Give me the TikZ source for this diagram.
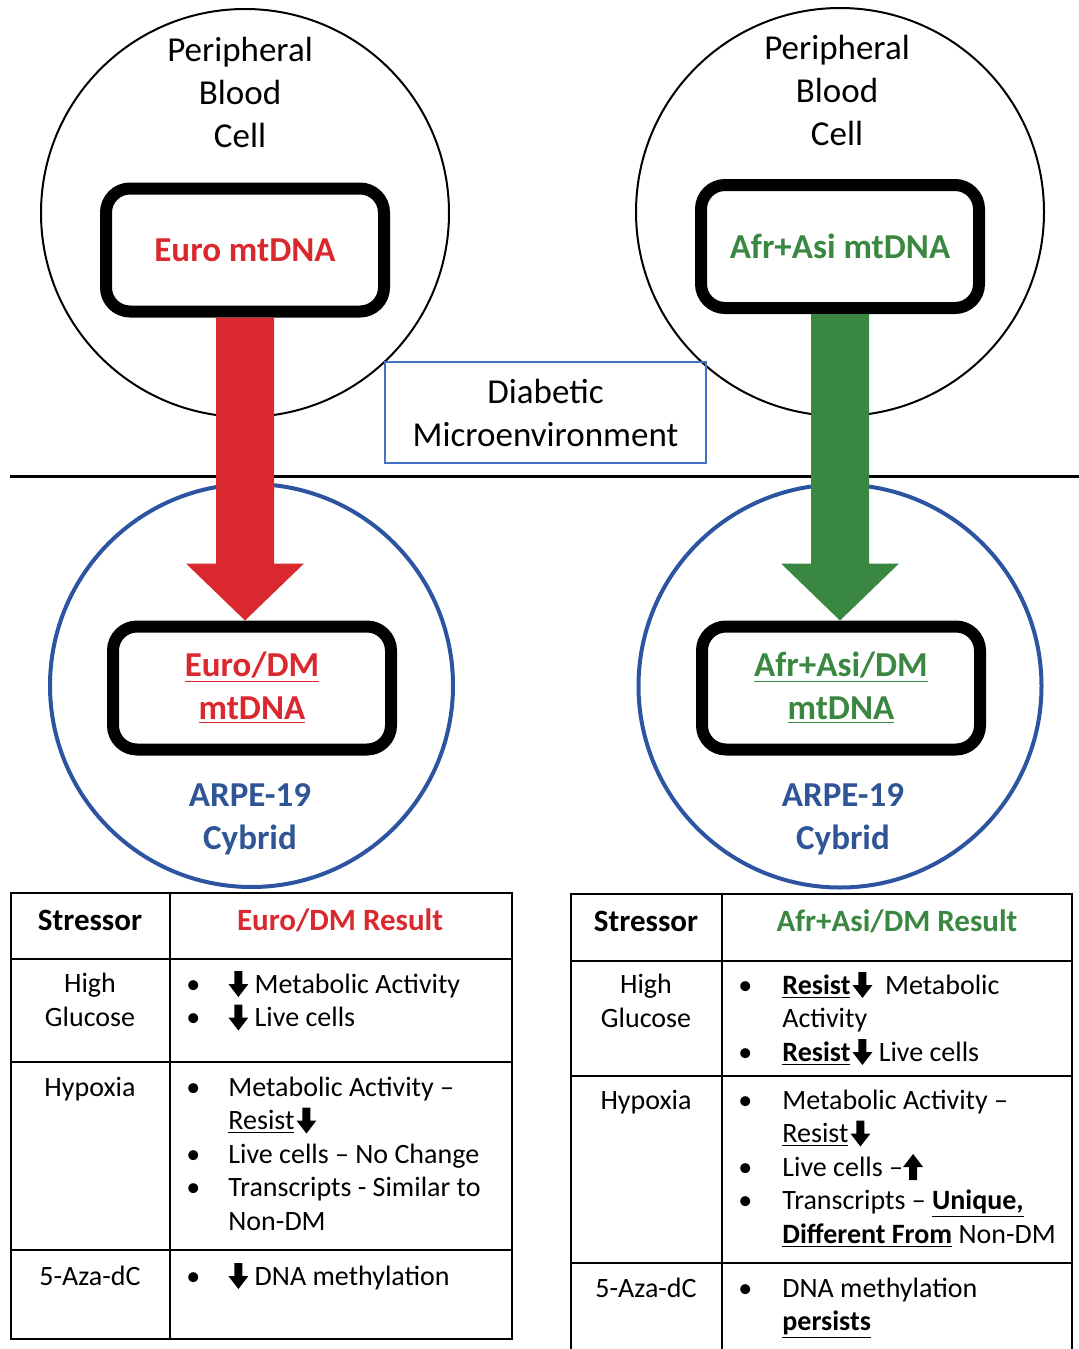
\documentclass[tikz,border=0pt]{standalone}
\usepackage{fontspec}
\setmainfont{Carlito}
\usepackage{xcolor}
\usetikzlibrary{positioning, calc}

\definecolor{eurored}{RGB}{218,41,46}
\definecolor{afrgreen}{RGB}{57,135,64}
\definecolor{cybblue}{RGB}{45,84,160}
\definecolor{txtblue}{RGB}{47,85,151}
\definecolor{envblue}{RGB}{68,114,196}

\newcommand{\bigfont}{\fontsize{17.5}{21.5}\selectfont}
\newcommand{\tabfont}{\fontsize{14}{16.75}\selectfont}
\newcommand{\headfont}{\fontsize{15.5}{19}\selectfont\bfseries}
\newcommand{\dnarr}{\tikz[baseline=0pt,x=1pt,y=1pt]\fill (-2,11) -- (2,11) -- (2,4.5) -- (5,4.5) -- (0,-2) -- (-5,4.5) -- (-2,4.5) -- cycle;}
\newcommand{\uparr}{\tikz[baseline=0pt,x=1pt,y=1pt]\fill (-2,-2) -- (2,-2) -- (2,4.5) -- (5,4.5) -- (0,11) -- (-5,4.5) -- (-2,4.5) -- cycle;}
\newcommand{\fatarrow}[3]{\fill[#3] let \p1=(#1), \p2=(#2) in
  (\x1-14.5pt,\y1) -- (\x1+14.5pt,\y1) -- (\x1+14.5pt,\y2+28.5pt) -- (\x1+29.5pt,\y2+28.5pt)
  -- (\x1,\y2) -- (\x1-29.5pt,\y2+28.5pt) -- (\x1-14.5pt,\y2+28.5pt) -- cycle;}

\tikzset{
  bloodcell/.style={circle, draw, line width=1pt, minimum size=204pt, inner sep=0pt},
  cybrid/.style={circle, draw=cybblue, line width=2pt, minimum size=201.5pt, inner sep=0pt},
  dnabox/.style={draw, line width=6pt, rounded corners=12pt, minimum width=139pt, minimum height=61.5pt, font=\bigfont\bfseries, align=center},
  celltext/.style={font=\bigfont, align=center},
  tabline/.style={line width=1pt},
  tabhead/.style={font=\headfont},
  stress/.style={font=\tabfont, anchor=base, align=center},
  resultcell/.style={font=\tabfont, anchor=base west, inner sep=0pt}
}

\begin{document}
\begin{tikzpicture}[x=0.5pt, y=-0.5pt]
\useasboundingbox (0,0) rectangle (1079,1349);

\node[bloodcell] (pbcL) at (245,213) {};
\node[bloodcell] (pbcR) at (840,212) {};
\node[celltext] (pbcLtxt) at (240,92) {Peripheral\\Blood\\Cell};
\node[celltext] (pbcRtxt) at (837,90) {Peripheral\\Blood\\Cell};

\node[cybrid] (cybL) at (251.5,685.5) {};
\node[cybrid] (cybR) at (840,686) {};
\node[celltext, font=\bigfont\bfseries, text=txtblue] (arpeL) at (250,819) {ARPE-19\\Cybrid};
\node[celltext, font=\bigfont\bfseries, text=txtblue] (arpeR) at (843,819) {ARPE-19\\Cybrid};

\coordinate (divL) at (10,476);
\coordinate (divR) at (1079,476);
\draw[line width=1.5pt] (divL) -- (divR);

\node[draw=envblue, line width=0.75pt, minimum width=160.5pt, minimum height=50.5pt, celltext] (diab) at (545.5,412.5) {Diabetic\\Microenvironment};

\node[dnabox, text=eurored] (euro) at (245,250) {Euro mtDNA};
\node[dnabox, text=afrgreen] (afr) at (840,246.5) {Afr+Asi mtDNA};
\node[dnabox, text=eurored] (euroDM) at (252,688) {\underline{Euro/DM}\\\underline{mtDNA}};
\node[dnabox, text=afrgreen] (afrDM) at (841,688) {\underline{Afr+Asi/DM}\\\underline{mtDNA}};

\fatarrow{euro.south}{euroDM.north}{eurored}
\fatarrow{afr.south}{afrDM.north}{afrgreen}

\draw[tabline] (11,893) rectangle (512,1339);
\draw[tabline] (170,893) -- (170,1339);
\draw[tabline] (11,959) -- (512,959) (11,1062) -- (512,1062) (11,1250) -- (512,1250);

\node[tabhead] (stressL) at (90,920) {Stressor};
\node[tabhead, text=eurored] (resL) at (340,920) {Euro/DM Result};
\node[stress, anchor=center] (hgL) at (90,1000) {High\\Glucose};
\node[stress] (hyL) at (90,1096) {Hypoxia};
\node[stress] (azaL) at (90,1285) {5-Aza-dC};

\node[resultcell] (hgResL) at (186,993) {\begin{tabular}[t]{@{}p{21pt}@{}l@{}}
\textbullet & \dnarr\ Metabolic Activity\\
\textbullet & \dnarr\ Live cells
\end{tabular}};
\node[resultcell] (hyResL) at (186,1096) {\begin{tabular}[t]{@{}p{21pt}@{}l@{}}
\textbullet & Metabolic Activity \textendash\\
 & \underline{Resist}\kern1pt\dnarr\\
\textbullet & Live cells \textendash\ No Change\\
\textbullet & Transcripts - Similar to\\
 & Non-DM
\end{tabular}};
\node[resultcell] (azaResL) at (186,1285) {\begin{tabular}[t]{@{}p{21pt}@{}l@{}}
\textbullet & \dnarr\ DNA methylation
\end{tabular}};

\draw[tabline] (571,1352) -- (571,894) -- (1072,894) -- (1072,1352);
\draw[tabline] (722,894) -- (722,1352);
\draw[tabline] (571,961) -- (1072,961) (571,1076) -- (1072,1076) (571,1263) -- (1072,1263);

\node[tabhead] (stressR) at (646,921) {Stressor};
\node[tabhead, text=afrgreen] (resR) at (897,921) {Afr+Asi/DM Result};
\node[stress, anchor=center] (hgR) at (646,1001) {High\\Glucose};
\node[stress] (hyR) at (646,1109) {Hypoxia};
\node[stress] (azaR) at (646,1297) {5-Aza-dC};

\node[resultcell] (hgResR) at (738,994) {\begin{tabular}[t]{@{}p{22pt}@{}l@{}}
\textbullet & \textbf{\underline{Resist}}\kern1pt\dnarr\ \ Metabolic\\
 & Activity\\
\textbullet & \textbf{\underline{Resist}}\kern1pt\dnarr\ Live cells
\end{tabular}};
\node[resultcell] (hyResR) at (738,1109) {\begin{tabular}[t]{@{}p{22pt}@{}l@{}}
\textbullet & Metabolic Activity \textendash\\
 & \underline{Resist}\kern1pt\dnarr\\
\textbullet & Live cells \textendash\uparr\\
\textbullet & Transcripts \textendash\ \textbf{\underline{Unique,}}\\
 & \textbf{\underline{Different From}} Non-DM
\end{tabular}};
\node[resultcell] (azaResR) at (738,1297) {\begin{tabular}[t]{@{}p{22pt}@{}l@{}}
\textbullet & DNA methylation\\
 & \textbf{\underline{persists}}
\end{tabular}};
\end{tikzpicture}
\end{document}
